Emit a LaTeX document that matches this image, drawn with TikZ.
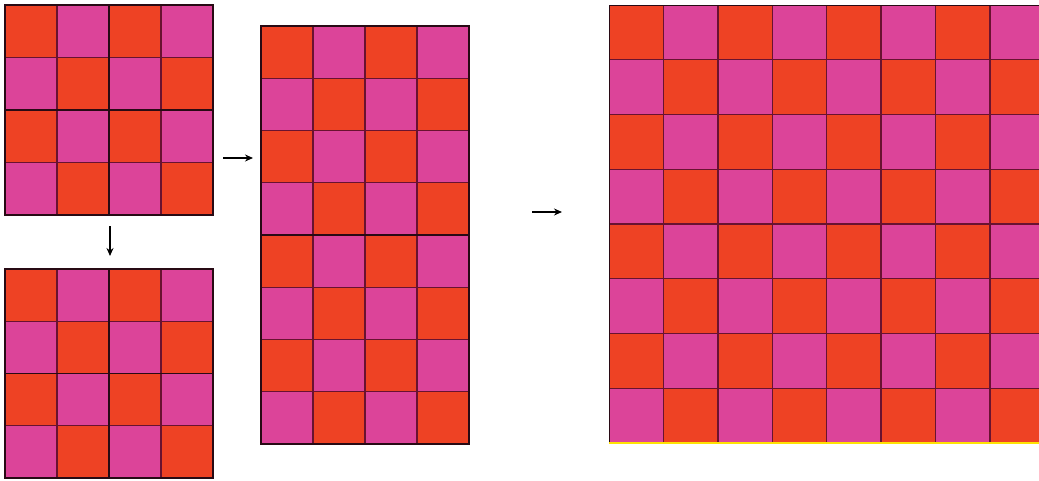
\documentclass[tikz,border=0pt]{standalone}
\usetikzlibrary{arrows.meta,positioning}
\definecolor{boardred}{RGB}{238,66,36}
\definecolor{boardpink}{RGB}{220,68,153}
\definecolor{boardline}{RGB}{105,18,48}
\definecolor{boardedge}{RGB}{40,10,20}
\colorlet{cell0}{boardred}
\colorlet{cell1}{boardpink}
\tikzset{
  board frame/.style={draw=boardedge,line width=1.3pt,inner sep=0pt,outer sep=0pt},
  cell line/.style={boardline,line width=1.4pt},
  mid line/.style={boardedge,line width=1.6pt},
  step arrow/.style={-{Stealth[length=8pt,width=7pt]},line width=1.4pt,black},
  base line/.style={yellow!85!orange,line width=2pt},
}

\begin{document}
\begin{tikzpicture}[x=1pt,y=-1pt]
  \useasboundingbox (0,0) rectangle (1039,480);
  \clip (0,0) rectangle (1039,480);
  % top left board, 4x4
  \begin{scope}[shift={(5,5)}]
    \foreach \r in {0,...,3}
      \foreach \c in {0,...,3} {
        \pgfmathtruncatemacro\k{mod(\r+\c,2)}
        \fill[cell\k] (\c*52,\r*52.5) rectangle ++(52,52.5);
      }
    \foreach \i in {1,3} {
      \draw[cell line] (\i*52,0) -- (\i*52,210);
      \draw[cell line] (0,\i*52.5) -- (208,\i*52.5);
    }
    \draw[mid line] (104,0) -- (104,210);
    \draw[mid line] (0,105) -- (208,105);
  \end{scope}
  \node[board frame,minimum width=208pt,minimum height=210pt,anchor=north west] (topboard) at (5,5) {};
  % bottom left board, 4x4
  \begin{scope}[shift={(5,269)}]
    \foreach \r in {0,...,3}
      \foreach \c in {0,...,3} {
        \pgfmathtruncatemacro\k{mod(\r+\c,2)}
        \fill[cell\k] (\c*52,\r*52.25) rectangle ++(52,52.25);
      }
    \foreach \i in {1,3} {
      \draw[cell line] (\i*52,0) -- (\i*52,209);
      \draw[cell line] (0,\i*52.25) -- (208,\i*52.25);
    }
    \draw[mid line] (104,0) -- (104,209);
    \draw[mid line] (0,104.5) -- (208,104.5);
  \end{scope}
  \node[board frame,minimum width=208pt,minimum height=209pt,anchor=north west] (bottomboard) at (5,269) {};
  % middle board, 4x8
  \begin{scope}[shift={(261,26)}]
    \foreach \r in {0,...,7}
      \foreach \c in {0,...,3} {
        \pgfmathtruncatemacro\k{mod(\r+\c,2)}
        \fill[cell\k] (\c*52,\r*52.25) rectangle ++(52,52.25);
      }
    \foreach \i in {1,2,3}
      \draw[cell line] (\i*52,0) -- (\i*52,418);
    \foreach \i in {1,2,3,5,6,7}
      \draw[cell line] (0,\i*52.25) -- (208,\i*52.25);
    \draw[mid line] (0,209) -- (208,209);
  \end{scope}
  \node[board frame,minimum width=208pt,minimum height=418pt,anchor=north west] (midboard) at (261,26) {};
  % right board, 8x8
  \begin{scope}[shift={(609,5)}]
    \foreach \r in {0,...,7}
      \foreach \c in {0,...,7} {
        \pgfmathtruncatemacro\k{mod(\r+\c,2)}
        \fill[cell\k] (\c*54.4,\r*54.75) rectangle ++(54.4,54.75);
      }
    \foreach \i in {1,...,7} {
      \draw[cell line] (\i*54.4,0) -- (\i*54.4,438);
      \draw[cell line] (0,\i*54.75) -- (435.2,\i*54.75);
    }
  \end{scope}
  \node[board frame,line width=0.6pt,minimum width=435.2pt,minimum height=438pt,anchor=north west] (rightboard) at (609,5) {};
  \draw[base line] (rightboard.south west) -- (rightboard.south east);
  % arrows
  \coordinate (down tail) at (110,226);
  \coordinate (down head) at (110,256);
  \coordinate (right tail) at (223,158);
  \coordinate (right head) at (253,158);
  \coordinate (far tail) at (532,212);
  \coordinate (far head) at (562,212);
  \draw[step arrow] (down tail) -- (down head);
  \draw[step arrow] (right tail) -- (right head);
  \draw[step arrow] (far tail) -- (far head);
\end{tikzpicture}
\end{document}
